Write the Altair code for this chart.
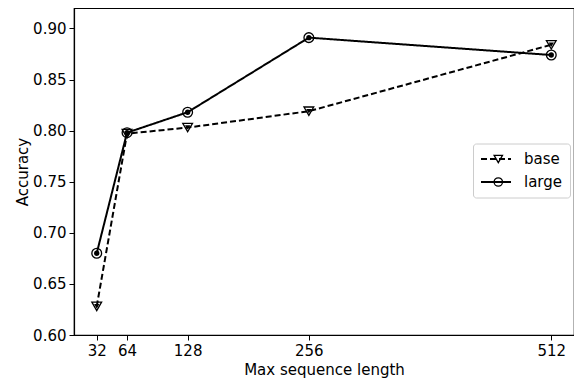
import altair as alt
import pandas as pd

seq_len = [32, 64, 128, 256, 512]
base_acc = [0.628, 0.797, 0.803, 0.819, 0.884]
large_acc = [0.680, 0.798, 0.818, 0.891, 0.874]
series = ["base", "large"]
marker_keys = ["base marker", "large marker"]
x_ticks = [32, 64, 128, 256, 512]
y_ticks = [0.60, 0.65, 0.70, 0.75, 0.80, 0.85, 0.90]

rows = []
for s, m, vals in zip(series, marker_keys, [base_acc, large_acc]):
    for x, v in zip(seq_len, vals):
        rows.append({"len": x, "acc": v, "model": s, "marker": m})
df = pd.DataFrame(rows)

FONT = "DejaVu Sans"
xs = alt.Scale(domain=[8, 536], nice=False, zero=False)
ys = alt.Scale(domain=[0.60, 0.92], nice=False, zero=False)

X = alt.X("len:Q", scale=xs, title="Max sequence length",
          axis=alt.Axis(values=x_ticks, format="d", grid=False))
Y = alt.Y("acc:Q", scale=ys, title="Accuracy",
          axis=alt.Axis(values=y_ticks, format=".2f", grid=False))

shape_scale = alt.Scale(domain=marker_keys, range=["triangle-down", "circle"])
dash_scale = alt.Scale(domain=series, range=[[6, 3], [1, 0]])

LX, LY = 399, 135.5
PAD = 7
dash_leg = alt.Legend(title=None, orient="none", legendX=LX, legendY=LY,
                      fillColor="white", strokeColor="#cccccc", cornerRadius=3,
                      padding=PAD, labelFontSize=15, labelFont=FONT, labelColor="black",
                      symbolType="stroke", symbolStrokeColor="black",
                      symbolSize=900, symbolStrokeWidth=2, rowPadding=6,
                      clipHeight=17, labelOffset=12, zindex=1)
shape_leg = alt.Legend(title=None, orient="none", legendX=LX + 10.8, legendY=LY,
                       fillColor="transparent", strokeColor="transparent",
                       padding=PAD, labelFontSize=15, labelFont=FONT, labelExpr="''",
                       symbolStrokeColor="black", symbolFillColor="black",
                       symbolSize=70, symbolStrokeWidth=1.3, rowPadding=6,
                       clipHeight=17, labelOffset=0, zindex=2)

lines = alt.Chart(df).mark_line(color="black", strokeWidth=2).encode(
    x=X, y=Y, detail="model:N",
    strokeDash=alt.StrokeDash("model:N", scale=dash_scale, legend=dash_leg),
)

outer = alt.Chart(df).mark_point(color="black", filled=False, strokeWidth=1.3, size=95, opacity=1).encode(
    x=X, y=Y,
    shape=alt.Shape("marker:N", scale=shape_scale, legend=shape_leg),
)

inner = alt.Chart(df).mark_point(color="black", filled=True, size=28, opacity=1).encode(
    x=X, y=Y,
    shape=alt.Shape("marker:N", scale=shape_scale, legend=shape_leg),
)

chart = alt.layer(lines, outer, inner).properties(
    width=500, height=327,
    autosize=alt.AutoSizeParams(type="none"),
    padding={"left": 66, "top": 0, "right": 0, "bottom": 46},
).configure_view(
    stroke="black", strokeWidth=1.2
).configure_axis(
    domainColor="black", tickColor="black", labelColor="black", titleColor="black",
    labelFont=FONT, titleFont=FONT, labelFontSize=15, titleFontSize=15,
    titleFontWeight="normal", tickSize=5, labelPadding=3, domainWidth=1.2,
).configure_axisY(titlePadding=2).configure_axisX(titlePadding=4)

chart.save("out.html", embed_options={"renderer": "svg", "actions": False})
